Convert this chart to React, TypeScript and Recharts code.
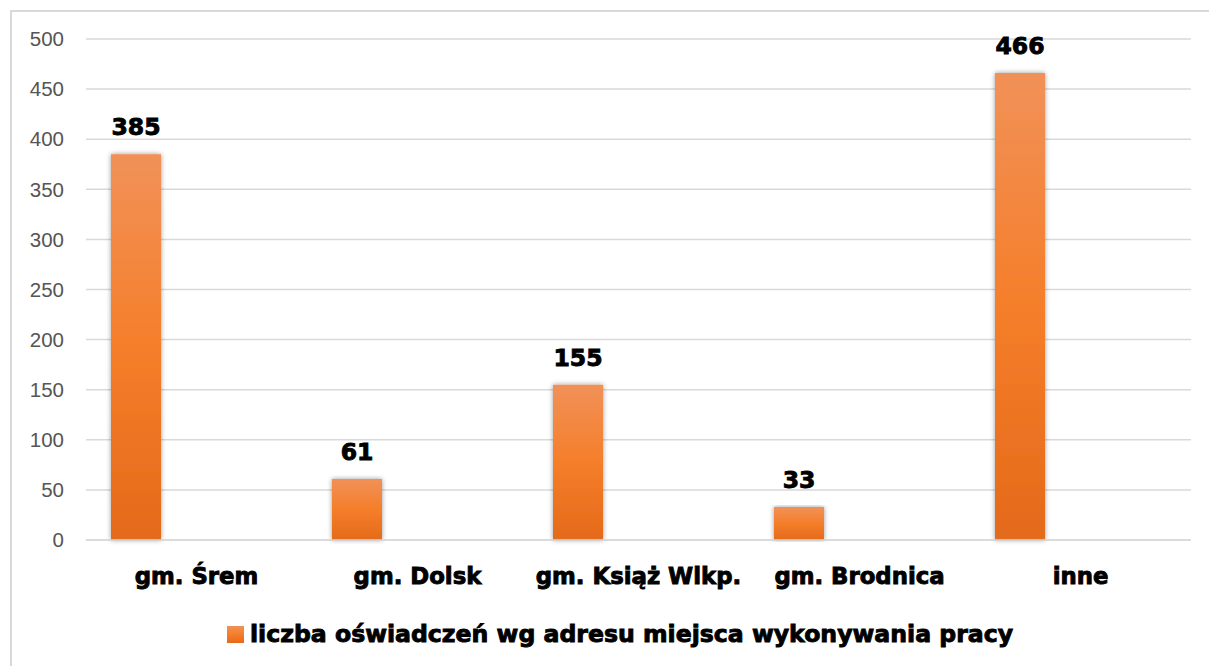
import React from 'react';
import { BarChart, Bar, XAxis, YAxis, CartesianGrid, Legend, LabelList } from 'recharts';

const categories = ['gm. Śrem', 'gm. Dolsk', 'gm. Książ Wlkp.', 'gm. Brodnica', 'inne'];
const counts = [385, 61, 155, 33, 466];
const yTicks = [0, 50, 100, 150, 200, 250, 300, 350, 400, 450, 500];
const seriesName = 'liczba oświadczeń wg adresu miejsca wykonywania pracy';

const data = categories.map((name, i) => ({ name, value: counts[i], empty: null }));

const heavyFont = '"DejaVu Sans", sans-serif';

const CategoryTick = (props: any) => {
    const { x, y, payload } = props;
    return (
        <text x={x} y={y + 44} textAnchor="middle" fontFamily={heavyFont} fontWeight={700}
            fontSize={22.8} fill="#000" stroke="#000" strokeWidth={0.9}>
            {payload.value}
        </text>
    );
};

const LegendBox = () => (
    <div style={{ display: 'flex', alignItems: 'center', paddingLeft: 217, height: 40 }}>
        <span style={{ display: 'inline-block', width: 17, height: 17, background: 'linear-gradient(#f19158, #f57e2a, #e46a1a)', marginRight: 6 }} />
        <span style={{ fontFamily: heavyFont, fontWeight: 700, fontSize: 23.6, color: '#000', WebkitTextStroke: '0.9px #000', whiteSpace: 'nowrap' }}>
            {seriesName}
        </span>
    </div>
);

const App: React.FC = () => {
    return (
        <div style={{ position: 'absolute', left: 0, top: 0, width: 1209, height: 666, overflow: 'hidden', background: '#fff' }}>
            <div style={{ position: 'absolute', left: 10, top: 10, width: 1220, height: 680, border: '2px solid #d9d9d9', boxSizing: 'border-box' }} />
            <BarChart width={1209} height={666} data={data} barSize={50} barGap={72}
                margin={{ top: 39, right: 18, bottom: 12, left: 10 }}>
                <defs>
                    <linearGradient id="barFill" x1="0" y1="0" x2="0" y2="1">
                        <stop offset="0%" stopColor="#f19158" />
                        <stop offset="50%" stopColor="#f57e2a" />
                        <stop offset="100%" stopColor="#e46a1a" />
                    </linearGradient>
                    <filter id="barShadow" x="-20%" y="-5%" width="140%" height="110%">
                        <feDropShadow dx="0" dy="0" stdDeviation="2.5" floodColor="#000" floodOpacity="0.4" />
                    </filter>
                </defs>
                <CartesianGrid vertical={false} stroke="#d9d9d9" strokeWidth={1.5} />
                <XAxis dataKey="name" height={74} tickLine={false} tickSize={0} tickMargin={0}
                    axisLine={{ stroke: '#d9d9d9', strokeWidth: 1.5 }} tick={<CategoryTick />} interval={0} />
                <YAxis width={76} domain={[0, 500]} ticks={yTicks} axisLine={false} tickLine={false}
                    tickMargin={16} tick={{ fill: '#555', fontSize: 20.5, fontFamily: '"Liberation Sans", sans-serif' }} />
                <Legend verticalAlign="bottom" height={40} content={<LegendBox />} />
                <Bar dataKey="value" name={seriesName} fill="url(#barFill)" filter="url(#barShadow)" isAnimationActive={false}>
                    <LabelList dataKey="value" position="top" offset={19} fill="#000" stroke="#000" strokeWidth={0.9}
                        fontFamily={heavyFont} fontWeight={700} fontSize={23.5} />
                </Bar>
                <Bar dataKey="empty" legendType="none" fill="#a5a5a5" isAnimationActive={false} />
            </BarChart>
        </div>
    );
};

export default App;
